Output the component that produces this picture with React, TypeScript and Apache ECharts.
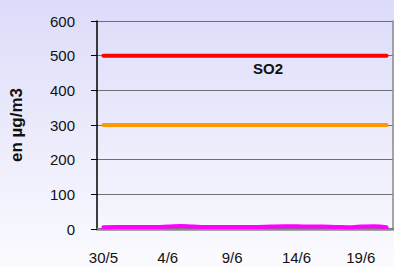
import React, { useEffect, useRef } from "react";
import * as echarts from "echarts";

const categories = [
  "30/5", "31/5", "1/6", "2/6", "3/6", "4/6", "5/6", "6/6", "7/6", "8/6", "9/6", "10/6",
  "11/6", "12/6", "13/6", "14/6", "15/6", "16/6", "17/6", "18/6", "19/6", "20/6", "21/6",
];
const limit500 = categories.map(() => 500);
const limit300 = categories.map(() => 300);
const so2 = [5, 6, 6, 6, 6, 7, 9, 7, 6, 6, 6, 6, 6, 7, 8, 8, 7, 7, 6, 5, 7, 8, 5];
const yTicks = { min: 0, max: 600, interval: 100 };

export default function App() {
  const ref = useRef<HTMLDivElement>(null);
  useEffect(() => {
    const chart = echarts.init(ref.current!, null, { renderer: "svg" });
    const font = "Liberation Sans, Arial, sans-serif";
    chart.setOption({
      animation: false,
      backgroundColor: "transparent",
      grid: { left: 96, right: 1, top: 21, bottom: 38, containLabel: false },
      xAxis: [
        {
          type: "category",
          data: categories,
          boundaryGap: true,
          axisLine: { lineStyle: { color: "#000", width: 1.5 } },
          axisTick: { interval: 4, length: 4, lineStyle: { color: "#000" } },
          axisLabel: { interval: 4, margin: 21, color: "#111", fontSize: 15, fontFamily: font },
          splitLine: { show: false },
        },
        {
          type: "category",
          position: "top",
          data: categories,
          axisLine: { lineStyle: { color: "#8a8a8a", width: 2.5 } },
          axisTick: { show: false },
          axisLabel: { show: false },
        },
      ],
      yAxis: [
        {
          type: "value",
          min: yTicks.min,
          max: yTicks.max,
          interval: yTicks.interval,
          axisLine: { show: true, lineStyle: { color: "#000", width: 1.5 } },
          axisTick: { show: true, length: 6, lineStyle: { color: "#000" } },
          axisLabel: { margin: 22, color: "#111", fontSize: 15, fontFamily: font },
          splitLine: { lineStyle: { color: "#707070", width: 1 } },
          name: "en µg/m3",
          nameLocation: "middle",
          nameGap: 72,
          nameTextStyle: { fontSize: 17, fontWeight: "bold", color: "#111", fontFamily: font },
        },
        {
          type: "value",
          position: "right",
          min: yTicks.min,
          max: yTicks.max,
          interval: yTicks.interval,
          axisLine: { show: true, lineStyle: { color: "#8a8a8a", width: 1.5 } },
          axisTick: { show: false },
          axisLabel: { show: false },
          splitLine: { show: false },
        },
      ],
      series: [
        {
          type: "line",
          data: limit500,
          showSymbol: false,
          lineStyle: { color: "#ff0000", width: 4, cap: "round" },
        },
        {
          type: "line",
          data: limit300,
          showSymbol: false,
          lineStyle: { color: "#ff9900", width: 4, cap: "round" },
        },
        {
          type: "line",
          data: so2,
          showSymbol: false,
          smooth: true,
          lineStyle: { color: "#ff00ff", width: 4, cap: "round" },
        },
      ],
      graphic: [
        {
          type: "text",
          left: 253,
          top: 61,
          style: { text: "SO2", fontSize: 15, fontWeight: "bold", fill: "#111", font: `bold 15px ${font}` },
        },
      ],
    });
    return () => chart.dispose();
  }, []);
  return (
    <div
      style={{
        position: "fixed",
        left: 0,
        top: 0,
        width: 394,
        height: 267,
        background: "linear-gradient(to bottom, #dcdcfa 0%, #ebebfc 50%, #fbfbff 100%)",
      }}
    >
      <div ref={ref} style={{ width: 394, height: 267 }} />
    </div>
  );
}
